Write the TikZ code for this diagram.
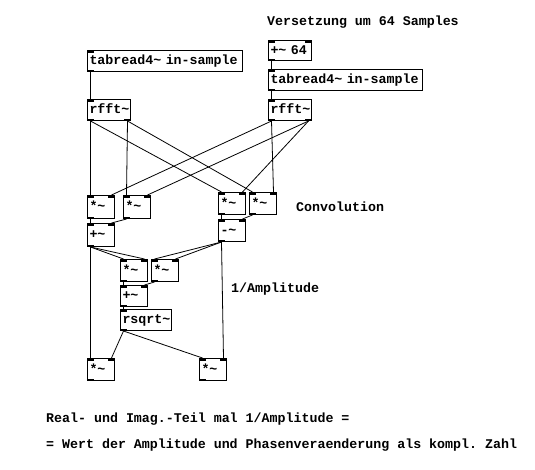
\documentclass[tikz,border=0pt]{standalone}
\usepackage{fontspec}
\setmonofont{Liberation Mono}
\usetikzlibrary{calc}
\newcommand\pdfont{\ttfamily\bfseries\fontsize{13.3}{15}\selectfont}
\newcommand\pdbox[6]{\node[pd, text width=#4, minimum height=#5] (#1) at (#2,#3) {#6};}
\newcommand\pdio[3]{%
  \fill (#1.north west) rectangle ++(7,2.5);
  \ifnum#2>1 \fill (#1.north east) rectangle ++(-7,2.5);\fi
  \ifnum#3>0 \fill (#1.south west) rectangle ++(7,-2.5);\fi
  \ifnum#3>1 \fill (#1.south east) rectangle ++(-7,-2.5);\fi
  \coordinate (#1-i1) at ($(#1.north west)+(3.5,0)$);
  \coordinate (#1-i2) at ($(#1.north east)+(-3.5,0)$);
  \coordinate (#1-o1) at ($(#1.south west)+(3.5,0)$);
  \coordinate (#1-o2) at ($(#1.south east)+(-3.5,0)$);
}
\tikzset{
  pd/.style={draw, line width=1pt, anchor=north west, inner xsep=2pt, inner ysep=0pt,
    align=left, font=\pdfont, text height=10pt, text depth=3pt},
  cmt/.style={anchor=base west, inner sep=0pt, font=\pdfont},
  conn/.style={line width=0.8pt}
}
\begin{document}
\begin{tikzpicture}[x=1pt,y=-1pt]
\fill[white] (0,0) rectangle (535,469);
\useasboundingbox (0,0) rectangle (535,469);

% boxes
\pdbox{tabL}{87}{50}{151pt}{21}{tabread4\char`~{} in-sample}
\pdbox{rfftL}{87}{99}{39pt}{21}{rfft\char`~}
\pdbox{plus64}{268}{40}{39pt}{20}{+\char`~{} 64}
\pdbox{tabR}{268}{69}{150pt}{21}{tabread4\char`~{} in-sample}
\pdbox{rfftR}{268}{99}{39pt}{21}{rfft\char`~}
\pdbox{m1}{87}{195}{23pt}{23}{*\char`~}
\pdbox{m2}{123}{195}{23pt}{23}{*\char`~}
\pdbox{m3}{218}{192}{23pt}{22}{*\char`~}
\pdbox{m4}{249}{192}{23pt}{22}{*\char`~}
\pdbox{p1}{87}{223}{23pt}{23}{+\char`~}
\pdbox{sub}{218}{219}{23pt}{22}{-\char`~}
\pdbox{m5}{120}{259}{23pt}{22}{*\char`~}
\pdbox{m6}{151}{259}{23pt}{22}{*\char`~}
\pdbox{p2}{120}{285}{23pt}{21}{+\char`~}
\pdbox{rsq}{120}{309}{47pt}{21}{rsqrt\char`~}
\pdbox{m7}{87}{358}{23pt}{22}{*\char`~}
\pdbox{m8}{199}{358}{23pt}{22}{*\char`~}

% inlets / outlets
\pdio{tabL}{1}{1}
\pdio{rfftL}{1}{2}
\pdio{plus64}{2}{1}
\pdio{tabR}{1}{1}
\pdio{rfftR}{1}{2}
\pdio{m1}{2}{1}
\pdio{m2}{2}{1}
\pdio{m3}{2}{1}
\pdio{m4}{2}{1}
\pdio{p1}{2}{1}
\pdio{sub}{2}{1}
\pdio{m5}{2}{1}
\pdio{m6}{2}{1}
\pdio{p2}{2}{1}
\pdio{rsq}{1}{1}
\pdio{m7}{2}{1}
\pdio{m8}{2}{1}

% connections
\draw[conn] (tabL-o1) -- (rfftL-i1);
\draw[conn] (plus64-o1) -- (tabR-i1);
\draw[conn] (tabR-o1) -- (rfftR-i1);
\draw[conn] (rfftL-o1) -- (m1-i1);
\draw[conn] (rfftL-o2) -- (m2-i1);
\draw[conn] (rfftL-o1) -- (m3-i1);
\draw[conn] (rfftL-o2) -- (m4-i1);
\draw[conn] (rfftR-o1) -- (m1-i2);
\draw[conn] (rfftR-o1) -- (m4-i2);
\draw[conn] (rfftR-o2) -- (m2-i2);
\draw[conn] (rfftR-o2) -- (m3-i2);
\draw[conn] (m1-o1) -- (p1-i1);
\draw[conn] (m2-o1) -- (p1-i2);
\draw[conn] (m3-o1) -- (sub-i1);
\draw[conn] (m4-o1) -- (sub-i2);
\draw[conn] (p1-o1) -- (m5-i1);
\draw[conn] (p1-o1) -- (m5-i2);
\draw[conn] (sub-o1) -- (m6-i1);
\draw[conn] (sub-o1) -- (m6-i2);
\draw[conn] (p1-o1) -- (m7-i1);
\draw[conn] (sub-o1) -- (m8-i2);
\draw[conn] (m5-o1) -- (p2-i1);
\draw[conn] (m6-o1) -- (p2-i2);
\draw[conn] (p2-o1) -- (rsq-i1);
\draw[conn] (rsq-o1) -- (m7-i2);
\draw[conn] (rsq-o1) -- (m8-i1);

% comments
\node[cmt] (c1) at (267,25) {Versetzung um 64 Samples};
\node[cmt] (c2) at (296,211) {Convolution};
\node[cmt] (c3) at (231,292) {1/Amplitude};
\node[cmt] (c4) at (46,422) {Real- und Imag.-Teil mal 1/Amplitude =};
\node[cmt] (c5) at (46,448) {= Wert der Amplitude und Phasenveraenderung als kompl. Zahl};
\end{tikzpicture}
\end{document}
